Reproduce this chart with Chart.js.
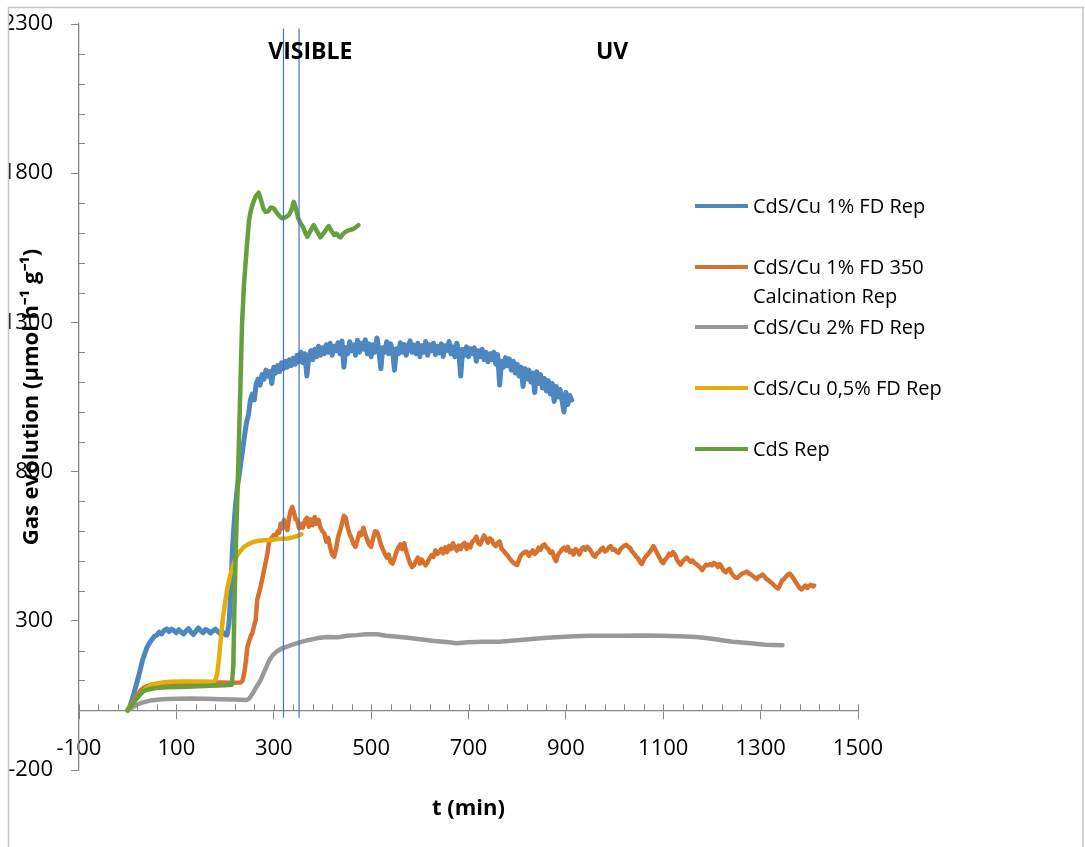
<!DOCTYPE html>
<html>
<head>
<meta charset="utf-8">
<script src="https://cdn.jsdelivr.net/npm/chart.js@4.4.1/dist/chart.umd.min.js"></script>
<style>
  body { margin: 0; background: #fff; }
</style>
</head>
<body>
<canvas id="myChart" width="1085" height="847"></canvas>
<script>
// series names and colours
var seriesNames = ['CdS/Cu 1% FD Rep', 'CdS/Cu 1% FD 350 Calcination Rep', 'CdS/Cu 2% FD Rep', 'CdS/Cu 0,5% FD Rep', 'CdS Rep'];
var seriesColors = ['#4E87C0', '#D8702E', '#999999', '#E4AD0B', '#65A03D'];

// CdS/Cu 1% FD Rep
var blueT = [0, 5, 10, 15, 20, 25, 30, 35, 40, 45, 50, 55, 60, 65, 70, 75, 80, 85, 90, 95, 100, 105, 110, 115, 120, 125, 130, 135, 140, 145, 150, 155, 160, 165, 170, 175, 180, 185, 190, 195, 200, 204,
  208, 212, 215, 220, 225, 230, 235, 240, 244, 248, 252, 256, 260, 264, 268, 272, 276, 280, 284, 288, 292, 296, 300, 304, 308, 312, 316, 320, 324, 328, 332, 336, 340, 344, 348, 352, 356, 360, 364, 368, 372, 376,
  380, 384, 388, 392, 396, 400, 404, 408, 412, 416, 420, 424, 428, 432, 436, 440, 444, 448, 452, 456, 460, 464, 468, 472, 476, 480, 484, 488, 492, 496,
  500, 504, 508, 512, 516, 520, 524, 528, 532, 536, 540, 544, 548, 552, 556, 560, 564, 568, 572, 576, 580, 584, 588, 592, 596,
  600, 604, 608, 612, 616, 620, 624, 628, 632, 636, 640, 644, 648, 652, 656, 660, 664, 668, 672, 676, 680, 684, 688, 692, 696,
  700, 704, 708, 712, 716, 720, 724, 728, 732, 736, 740, 744, 748, 752, 756, 760, 764, 768, 772, 776, 780, 784, 788, 792, 796,
  800, 804, 808, 812, 816, 820, 824, 828, 832, 836, 840, 844, 848, 852, 856, 860, 864, 868, 872, 876, 880, 884, 888, 892, 896, 900, 904, 908, 912];
var blueV = [0, 15, 40, 70, 100, 130, 165, 190, 212, 226, 238, 248, 252, 262, 256, 268, 273, 264, 272, 267, 260, 270, 262, 256, 266, 274, 262, 254, 265, 276, 267, 260, 271, 267, 259, 266, 272, 264, 257, 262, 254, 252,
  290, 400, 538, 660, 745, 800, 860, 920, 965, 990, 1040, 1060, 1040, 1095, 1110, 1090, 1125, 1110, 1140, 1120, 1135, 1095, 1150, 1130, 1155, 1135, 1165, 1145, 1170, 1150, 1175, 1155, 1180, 1160, 1190, 1168, 1200, 1165, 1195, 1120, 1185, 1205,
  1175, 1210, 1185, 1220, 1190, 1215, 1195, 1225, 1200, 1230, 1190, 1220, 1205, 1232, 1195, 1238, 1150, 1215, 1195, 1235, 1205, 1225, 1190, 1240, 1200, 1230, 1210, 1242, 1195, 1228,
  1185, 1225, 1200, 1248, 1205, 1145, 1215, 1200, 1235, 1195, 1228, 1205, 1140, 1212, 1195, 1232, 1200, 1226, 1190, 1218, 1238, 1200, 1224, 1195, 1230,
  1185, 1222, 1200, 1236, 1190, 1225, 1205, 1230, 1192, 1220, 1198, 1228, 1186, 1222, 1206, 1236, 1195, 1218, 1185, 1230, 1200, 1120, 1210, 1190, 1218,
  1185, 1212, 1195, 1215, 1170, 1205, 1185, 1210, 1175, 1200, 1168, 1195, 1175, 1200, 1160, 1192, 1090, 1170, 1150, 1182, 1155, 1178, 1140, 1170, 1130,
  1160, 1120, 1150, 1085, 1145, 1110, 1140, 1100, 1130, 1065, 1135, 1095, 1125, 1080, 1112, 1070, 1105, 1060, 1095, 1035, 1085, 1050, 1075, 1040, 1000, 1065, 1025, 1055, 1040];

// CdS/Cu 1% FD 350 Calcination Rep
var orangeT = [0, 6, 13, 20, 27, 35, 47, 60, 80, 100, 130, 160, 190, 215, 232, 236, 240, 243, 246, 250, 253, 256, 260, 263, 266, 270, 273, 277, 280, 284, 287, 290, 294, 297, 300, 304, 308, 311, 314, 317, 321, 324, 328, 331, 334, 338, 342, 345, 348, 352, 356, 360, 364, 368, 372, 376, 380, 384, 388, 392, 396,
  400, 404, 408, 412, 416, 420, 424, 428, 432, 436, 440, 444, 448, 452, 456, 460, 464, 468, 472, 476, 480, 484, 488, 492, 496, 500, 504, 508, 512, 516, 520, 524, 528, 532, 536, 540, 544, 548, 552, 556, 560, 564, 568, 572, 576, 580, 584, 588, 592, 596,
  600, 604, 608, 612, 616, 620, 624, 628, 632, 636, 640, 644, 648, 652, 656, 660, 664, 668, 672, 676, 680, 684, 688, 692, 696, 700, 704, 708, 712, 716, 720, 724, 728, 732, 736, 740, 744, 748, 752, 756, 760, 764, 768, 772, 776, 780, 784, 788, 792, 796,
  800, 804, 808, 812, 816, 820, 824, 828, 832, 836, 840, 844, 848, 852, 856, 860, 864, 868, 872, 876, 880, 884, 888, 892, 896, 900, 904, 908, 912, 916, 920, 924, 928, 932, 936, 940, 944, 948, 952, 956, 960, 964, 968, 972, 976, 980, 984, 988, 992, 996,
  1000, 1004, 1008, 1012, 1016, 1020, 1024, 1028, 1032, 1036, 1040, 1044, 1048, 1052, 1056, 1060, 1064, 1068, 1072, 1076, 1080, 1084, 1088, 1092, 1096,
  1100, 1104, 1108, 1112, 1116, 1120, 1124, 1128, 1132, 1136, 1140, 1144, 1148, 1152, 1156, 1160, 1164, 1168, 1172, 1176, 1180, 1184, 1188, 1192, 1196,
  1200, 1204, 1208, 1212, 1216, 1220, 1224, 1228, 1232, 1236, 1240, 1244, 1248, 1252, 1256, 1260, 1264, 1268, 1272, 1276, 1280, 1284, 1288, 1292, 1296,
  1300, 1304, 1308, 1312, 1316, 1320, 1324, 1328, 1332, 1336, 1340, 1344, 1348, 1352, 1356, 1360, 1364, 1368, 1372, 1376, 1380, 1384, 1388, 1392, 1396, 1400, 1404, 1408, 1410];
var orangeV = [0, 15, 35, 52, 68, 78, 85, 88, 90, 91, 92, 92, 93, 92, 93, 100, 130, 169, 213, 235, 250, 258, 285, 303, 370, 395, 414, 445, 470, 500, 526, 560, 575, 580, 587, 583, 600, 595, 625, 610, 638, 615, 604, 640, 665, 682, 660, 640, 638, 610, 625, 612, 635, 645, 615, 640, 620, 648, 625, 638, 612,
  600, 592, 565, 578, 545, 522, 515, 540, 580, 600, 625, 652, 645, 612, 590, 576, 556, 548, 570, 595, 588, 612, 590, 572, 555, 548, 575, 600, 598, 580, 556, 540, 525, 512, 522, 497, 492, 510, 530, 546, 556, 540, 560, 532, 512, 492, 480, 486, 500, 512,
  492, 505, 494, 486, 496, 510, 520, 514, 536, 524, 530, 541, 526, 546, 530, 551, 540, 560, 546, 535, 552, 540, 556, 561, 541, 555, 546, 566, 570, 582, 561, 556, 571, 586, 575, 562, 576, 570, 556, 550, 561, 566, 541, 535, 526, 520, 510, 502, 495, 490,
  487, 505, 520, 526, 531, 531, 518, 528, 536, 524, 530, 545, 538, 552, 556, 546, 540, 528, 532, 512, 500, 522, 530, 540, 545, 536, 548, 530, 534, 522, 540, 535, 522, 540, 546, 538, 548, 541, 532, 520, 515, 526, 530, 540, 545, 532, 536, 546, 550, 538,
  540, 532, 528, 540, 546, 552, 555, 548, 544, 532, 525, 516, 510, 498, 490, 505, 515, 522, 530, 540, 550, 538, 525, 512, 500,
  493, 505, 512, 525, 520, 530, 522, 505, 495, 488, 500, 506, 512, 505, 498, 502, 494, 490, 484, 478, 470, 480, 488, 486, 490,
  486, 494, 490, 480, 490, 480, 468, 462, 470, 474, 460, 452, 445, 444, 450, 455, 460, 462, 465, 458, 455, 450, 445, 440, 448,
  450, 455, 448, 440, 436, 430, 425, 418, 412, 408, 420, 435, 440, 448, 455, 458, 450, 440, 430, 420, 410, 405, 412, 418, 410, 418, 420, 415, 418];

// CdS/Cu 2% FD Rep
var grayT = [0, 10, 20, 30, 40, 50, 70, 100, 130, 160, 190, 220, 245, 250, 258, 265, 273, 282, 290, 298, 306, 317, 330, 348, 370, 390, 410, 432, 450, 470, 490, 513, 530, 550, 579, 600, 630, 660, 675, 700, 730, 763, 800, 837, 860, 890, 918, 950, 990, 1021, 1060, 1095, 1130, 1168, 1200, 1242, 1280, 1310, 1345];
var grayV = [0, 10, 20, 26, 30, 34, 37, 39, 40, 39, 37, 36, 35, 40, 60, 80, 101, 135, 165, 185, 197, 208, 215, 225, 235, 242, 246, 245, 250, 252, 255, 255, 250, 247, 242, 238, 232, 228, 225, 228, 230, 230, 235, 240, 243, 246, 248, 250, 250, 250, 251, 250, 248, 246, 240, 230, 225, 220, 218];

// CdS/Cu 0,5% FD Rep
var yellowT = [0, 8, 16, 27, 37, 47, 60, 75, 88, 120, 150, 177, 181, 184, 188, 191, 195, 200, 204, 210, 218, 225, 232, 239, 250, 259, 270, 280, 293, 305, 315, 328, 340, 350, 357];
var yellowV = [0, 15, 35, 57, 72, 85, 90, 94, 96, 97, 97, 96, 105, 124, 180, 236, 300, 360, 403, 450, 493, 520, 535, 548, 558, 565, 568, 570, 571, 573, 575, 576, 580, 585, 590];

// CdS Rep
var greenT = [0, 8, 16, 25, 33, 43, 54, 80, 122, 170, 200, 214, 217, 219, 222, 225, 228, 235, 239, 245, 249, 253, 256, 262, 269, 274, 279, 283, 288, 294, 300, 306, 311, 317, 324, 331, 336, 341, 346, 350, 355, 360, 365, 369, 375, 382, 389, 396, 403, 409, 413, 418, 424, 429, 434, 437, 443, 449, 455, 462, 468, 474];
var greenV = [0, 15, 35, 52, 65, 70, 74, 77, 79, 82, 84, 86, 150, 330, 537, 700, 872, 1300, 1431, 1560, 1640, 1675, 1693, 1720, 1735, 1710, 1680, 1671, 1672, 1685, 1682, 1668, 1658, 1649, 1652, 1660, 1675, 1704, 1680, 1650, 1632, 1620, 1600, 1587, 1605, 1626, 1605, 1585, 1600, 1615, 1623, 1608, 1593, 1598, 1588, 1585, 1598, 1605, 1609, 1612, 1618, 1626];

// vertical lines marking the lamp change
var markerT = [320, 352];
var markerSpan = [-25, 2285];

// axis ticks
var xTicks = [-100, 100, 300, 500, 700, 900, 1100, 1300, 1500];
var yTicks = [-200, 300, 800, 1300, 1800, 2300];

var seriesT = [blueT, orangeT, grayT, yellowT, greenT];
var seriesV = [blueV, orangeV, grayV, yellowV, greenV];

var datasets = seriesNames.map(function(name, i) {
  return {
    label: name,
    data: seriesT[i].map(function(t, j) { return { x: t, y: seriesV[i][j] }; }),
    borderColor: seriesColors[i],
    borderWidth: i === 0 ? 5 : 4.5,
    borderJoinStyle: 'round',
    borderCapStyle: 'round',
    showLine: true,
    pointRadius: 0,
    order: 4 - i
  };
});
markerT.forEach(function(t) {
  datasets.push({
    label: '',
    data: markerSpan.map(function(v) { return { x: t, y: v }; }),
    borderColor: '#4472C4',
    borderWidth: 1.2,
    showLine: true,
    pointRadius: 0,
    order: -1
  });
});

var axisGray = '#868686';
var tickFont = { family: 'Open Sans', size: 22 };

// minor ticks, titles, text labels, legend and frame
var extras = {
  id: 'extras',
  afterDraw: function(chart) {
    var ctx = chart.ctx, xs = chart.scales.x, ys = chart.scales.y;
    var y0 = ys.getPixelForValue(0);
    var x0 = xs.left;
    ctx.save();
    ctx.strokeStyle = axisGray;
    ctx.lineWidth = 1;
    ctx.beginPath();
    for (var t = -100; t <= 1500; t += 40) {
      var px = Math.round(xs.getPixelForValue(t)) + 0.5;
      ctx.moveTo(px, y0 - 6);
      ctx.lineTo(px, y0);
    }
    for (var v = -200; v <= 2300; v += 100) {
      if ((v + 200) % 500 === 0) continue;
      var py = Math.round(ys.getPixelForValue(v)) + 0.5;
      ctx.moveTo(x0, py);
      ctx.lineTo(x0 + 6, py);
    }
    ctx.stroke();

    ctx.fillStyle = '#000';
    ctx.textAlign = 'center';
    ctx.textBaseline = 'middle';
    ctx.font = 'bold 22px "Open Sans"';
    ctx.fillText('t (min)', (xs.left + xs.right) / 2, 809);
    ctx.font = 'bold 23px "Open Sans"';
    ctx.fillText('VISIBLE', xs.getPixelForValue(375), ys.getPixelForValue(2206));
    ctx.fillText('UV', xs.getPixelForValue(995), ys.getPixelForValue(2206));

    // legend
    var rows = [206, 267, 327, 388, 449];
    ctx.font = '20px "Open Sans"';
    ctx.textAlign = 'left';
    seriesNames.forEach(function(name, i) {
      var y = rows[i];
      ctx.strokeStyle = seriesColors[i];
      ctx.lineWidth = 4;
      ctx.beginPath();
      ctx.moveTo(695, y);
      ctx.lineTo(748, y);
      ctx.stroke();
      var words = name.split(' '), lines = [], cur = '';
      words.forEach(function(w) {
        var test = cur ? cur + ' ' + w : w;
        if (cur && ctx.measureText(test).width > 205) { lines.push(cur); cur = w; } else { cur = test; }
      });
      lines.push(cur);
      lines.forEach(function(ln, j) { ctx.fillText(ln, 753, y + 1 + j * 29); });
    });

    // outer frame
    ctx.fillStyle = '#fff';
    ctx.fillRect(0, 0, 8, chart.height);
    ctx.strokeStyle = '#C4C4C4';
    ctx.lineWidth = 1.5;
    ctx.beginPath();
    ctx.moveTo(8.5, chart.height);
    ctx.lineTo(8.5, 7.5);
    ctx.lineTo(1083, 7.5);
    ctx.lineTo(1083, chart.height);
    ctx.stroke();
    ctx.restore();
  }
};

var plain = function(value) { return String(value); };

var ctx = document.getElementById('myChart').getContext('2d');
var myChart = new Chart(ctx, {
  type: 'scatter',
  data: { datasets: datasets },
  plugins: [extras],
  options: {
    responsive: false,
    animation: false,
    devicePixelRatio: 1,
    layout: { padding: { left: 0, top: 24, right: 227, bottom: 77 } },
    plugins: { legend: { display: false }, tooltip: { enabled: false } },
    scales: {
      x: {
        type: 'linear',
        position: { y: 0 },
        min: -100,
        max: 1500,
        afterBuildTicks: function(scale) { scale.ticks = xTicks.map(function(v) { return { value: v }; }); },
        afterFit: function(scale) { scale.height = 0; scale.paddingTop = 0; scale.paddingBottom = 0; scale.paddingLeft = 0; scale.paddingRight = 0; },
        grid: { drawOnChartArea: false, tickLength: 8, color: axisGray, lineWidth: 1 },
        border: { color: axisGray, width: 1.3 },
        ticks: { font: tickFont, color: '#000', padding: 17, maxRotation: 0, callback: plain }
      },
      y: {
        type: 'linear',
        position: 'left',
        min: -200,
        max: 2300,
        afterBuildTicks: function(scale) { scale.ticks = yTicks.map(function(v) { return { value: v }; }); },
        afterFit: function(scale) { scale.width = 79; scale.paddingTop = 0; scale.paddingBottom = 0; },
        grid: { drawOnChartArea: false, tickLength: 8, color: axisGray, lineWidth: 1 },
        border: { color: axisGray, width: 1.3 },
        ticks: { font: tickFont, color: '#000', padding: 18, callback: plain },
        title: {
          display: true,
          text: 'Gas evolution (µmol h⁻¹ g⁻¹)',
          font: { family: 'Open Sans', size: 22, weight: 'bold' },
          color: '#000',
          padding: { top: 19, bottom: 0 }
        }
      }
    }
  }
});
</script>
</body>
</html>
